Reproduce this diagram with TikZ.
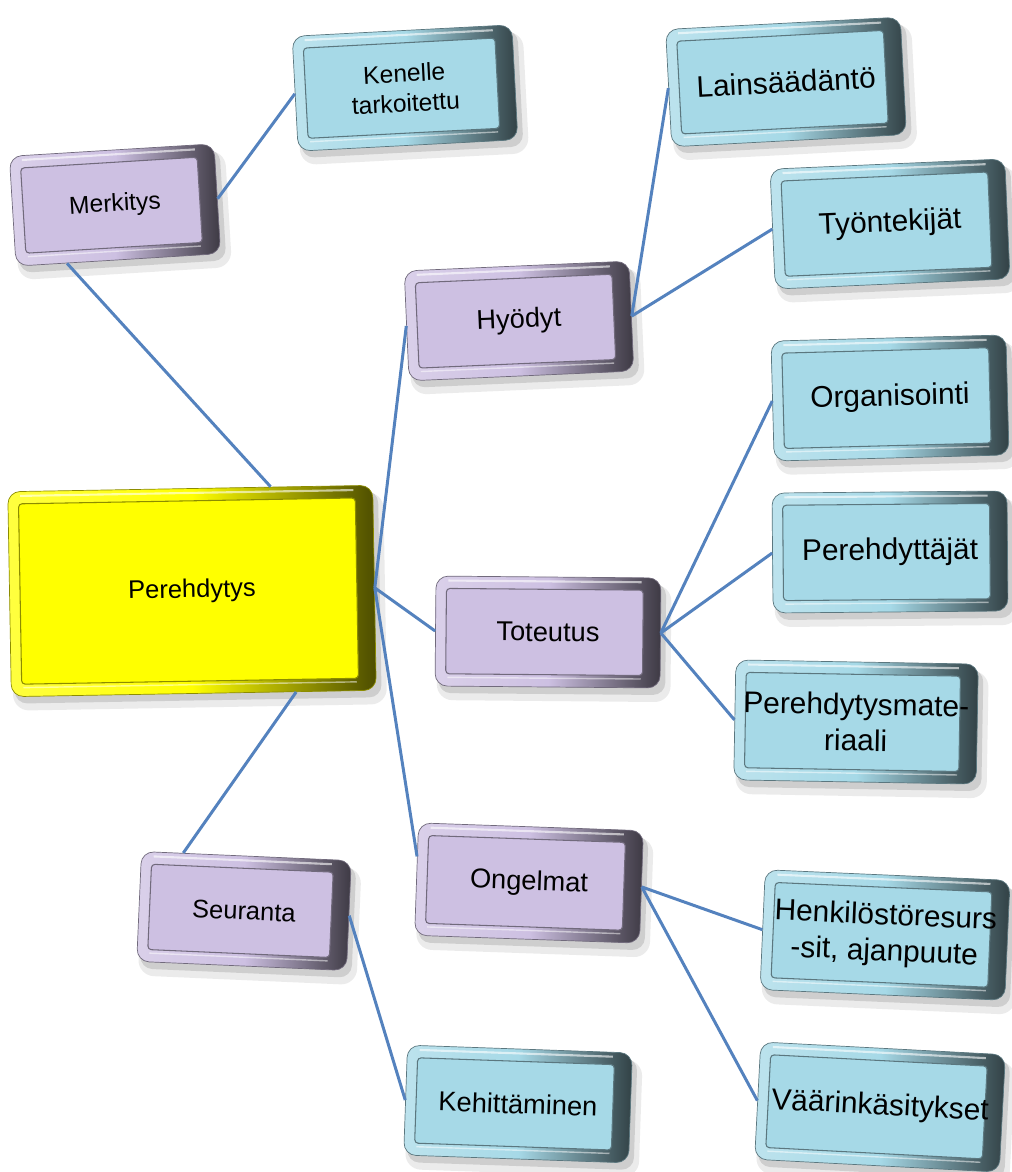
\documentclass[tikz,border=0pt]{standalone}
\usepackage{fontspec}
\setmainfont{Liberation Sans}
\usepackage{xcolor}
\usepackage{tikz}
\usetikzlibrary{positioning,calc}

\definecolor{purp}{RGB}{205,192,226}
\definecolor{cyanb}{RGB}{166,217,231}
\definecolor{yelo}{RGB}{255,255,0}
\definecolor{wire}{RGB}{84,130,190}

% bevelled box: name, centre, angle, width, height, colour, font, text
\newcommand{\bevbox}[8]{%
  \begin{scope}[shift={#2}, rotate=#3]
    \fill[black, opacity=0.08, rounded corners=9pt] (-#4/2+1pt, -#5/2-8pt) rectangle (#4/2+6pt, #5/2-4pt);
    \fill[black, opacity=0.12, rounded corners=7pt] (-#4/2+2pt, -#5/2-4pt) rectangle (#4/2+3pt, #5/2-3pt);
    \draw[#6!55!black, line width=0.4pt, rounded corners=7pt, left color=#6!75!white, right color=#6!30!black, middle color=#6] (-#4/2, -#5/2) rectangle (#4/2, #5/2);
    \draw[white, opacity=0.6, line width=1.2pt] (-#4/2+7pt, #5/2-2.5pt) -- (#4/2-11pt, #5/2-2.5pt);
    \draw[#6!55!black, line width=0.6pt, rounded corners=2pt, fill=#6] (-#4/2+6pt, -#5/2+7pt) rectangle (#4/2-10pt, #5/2-7pt);
    \draw[white, opacity=0.5, line width=0.8pt] (-#4/2+7pt, -#5/2+5pt) -- (#4/2-11pt, -#5/2+5pt);
    \node[transform shape, minimum width=#4, minimum height=#5, inner sep=0pt, align=center, font=#7] (#1) at (0,0) {#8};
  \end{scope}}

\begin{document}
\begin{tikzpicture}[x=0.02cm, y=-0.02cm,
    wireline/.style={draw=wire, line width=1.7pt}]
    \useasboundingbox (0,0) rectangle (1011,1172);

    % left column
    \bevbox{ken}{(405,88)}{3}{4.4cm}{2.3cm}{cyanb}{\fontsize{14}{17}\selectfont}{Kenelle\\tarkoitettu}
    \bevbox{merk}{(115,205)}{3.5}{4.1cm}{2.2cm}{purp}{\fontsize{14}{15}\selectfont}{Merkitys}
    \bevbox{pere}{(192,591)}{1}{7.3cm}{4.1cm}{yelo}{\fontsize{14.5}{16}\selectfont}{Perehdytys}
    \bevbox{sea}{(244,911)}{-2.5}{4.2cm}{2.2cm}{purp}{\fontsize{14.5}{16}\selectfont}{Seuranta}
    \bevbox{keh}{(518,1104)}{-2}{4.5cm}{2.2cm}{cyanb}{\fontsize{15.5}{17}\selectfont}{Kehittäminen}

    % middle column
    \bevbox{hyo}{(519,321)}{2.5}{4.5cm}{2.2cm}{purp}{\fontsize{15.5}{17}\selectfont}{Hyödyt}
    \bevbox{tot}{(548,632)}{-0.5}{4.5cm}{2.2cm}{purp}{\fontsize{15.5}{17}\selectfont}{Toteutus}
    \bevbox{ong}{(529,883)}{-2}{4.5cm}{2.25cm}{purp}{\fontsize{15.5}{17}\selectfont}{Ongelmat}

    % right column
    \bevbox{lain}{(786,82)}{3}{4.7cm}{2.35cm}{cyanb}{\fontsize{17}{19}\selectfont}{Lainsäädäntö}
    \bevbox{tyo}{(890,224)}{2.5}{4.7cm}{2.4cm}{cyanb}{\fontsize{17}{19}\selectfont}{Työntekijät}
    \bevbox{org}{(890,398)}{1.5}{4.7cm}{2.4cm}{cyanb}{\fontsize{17}{19}\selectfont}{Organisointi}
    \bevbox{pdt}{(890,552)}{0.5}{4.7cm}{2.4cm}{cyanb}{\fontsize{17}{19}\selectfont}{Perehdyttäjät}
    \bevbox{mat}{(856,722)}{-1}{4.85cm}{2.4cm}{cyanb}{\fontsize{17}{20.5}\selectfont}{Perehdytysmate-\\riaali}
    \bevbox{hen}{(885,935)}{-2.5}{4.9cm}{2.4cm}{cyanb}{\fontsize{17}{20.5}\selectfont}{Henkilöstöresurs\\-sit, ajanpuute}
    \bevbox{vaa}{(880,1107)}{-3}{4.9cm}{2.35cm}{cyanb}{\fontsize{17}{19}\selectfont}{Väärinkäsitykset}

    % connectors
    \draw[wireline] (merk.east) -- (ken.west);
    \draw[wireline] ($(merk.south west)!0.25!(merk.south east)$) -- ($(pere.north west)!0.72!(pere.north east)$);
    \draw[wireline] (pere.east) -- (hyo.west);
    \draw[wireline] (pere.east) -- (tot.west);
    \draw[wireline] (pere.east) -- ($(ong.north west)!0.3!(ong.south west)$);
    \draw[wireline] ($(pere.south west)!0.78!(pere.south east)$) -- ($(sea.north west)!0.2!(sea.north east)$);
    \draw[wireline] (hyo.east) -- (lain.west);
    \draw[wireline] (hyo.east) -- (tyo.west);
    \draw[wireline] (tot.east) -- (org.west);
    \draw[wireline] (tot.east) -- (pdt.west);
    \draw[wireline] (tot.east) -- (mat.west);
    \draw[wireline] (ong.east) -- (hen.west);
    \draw[wireline] (ong.east) -- (vaa.west);
    \draw[wireline] (sea.east) -- (keh.west);
\end{tikzpicture}
\end{document}
